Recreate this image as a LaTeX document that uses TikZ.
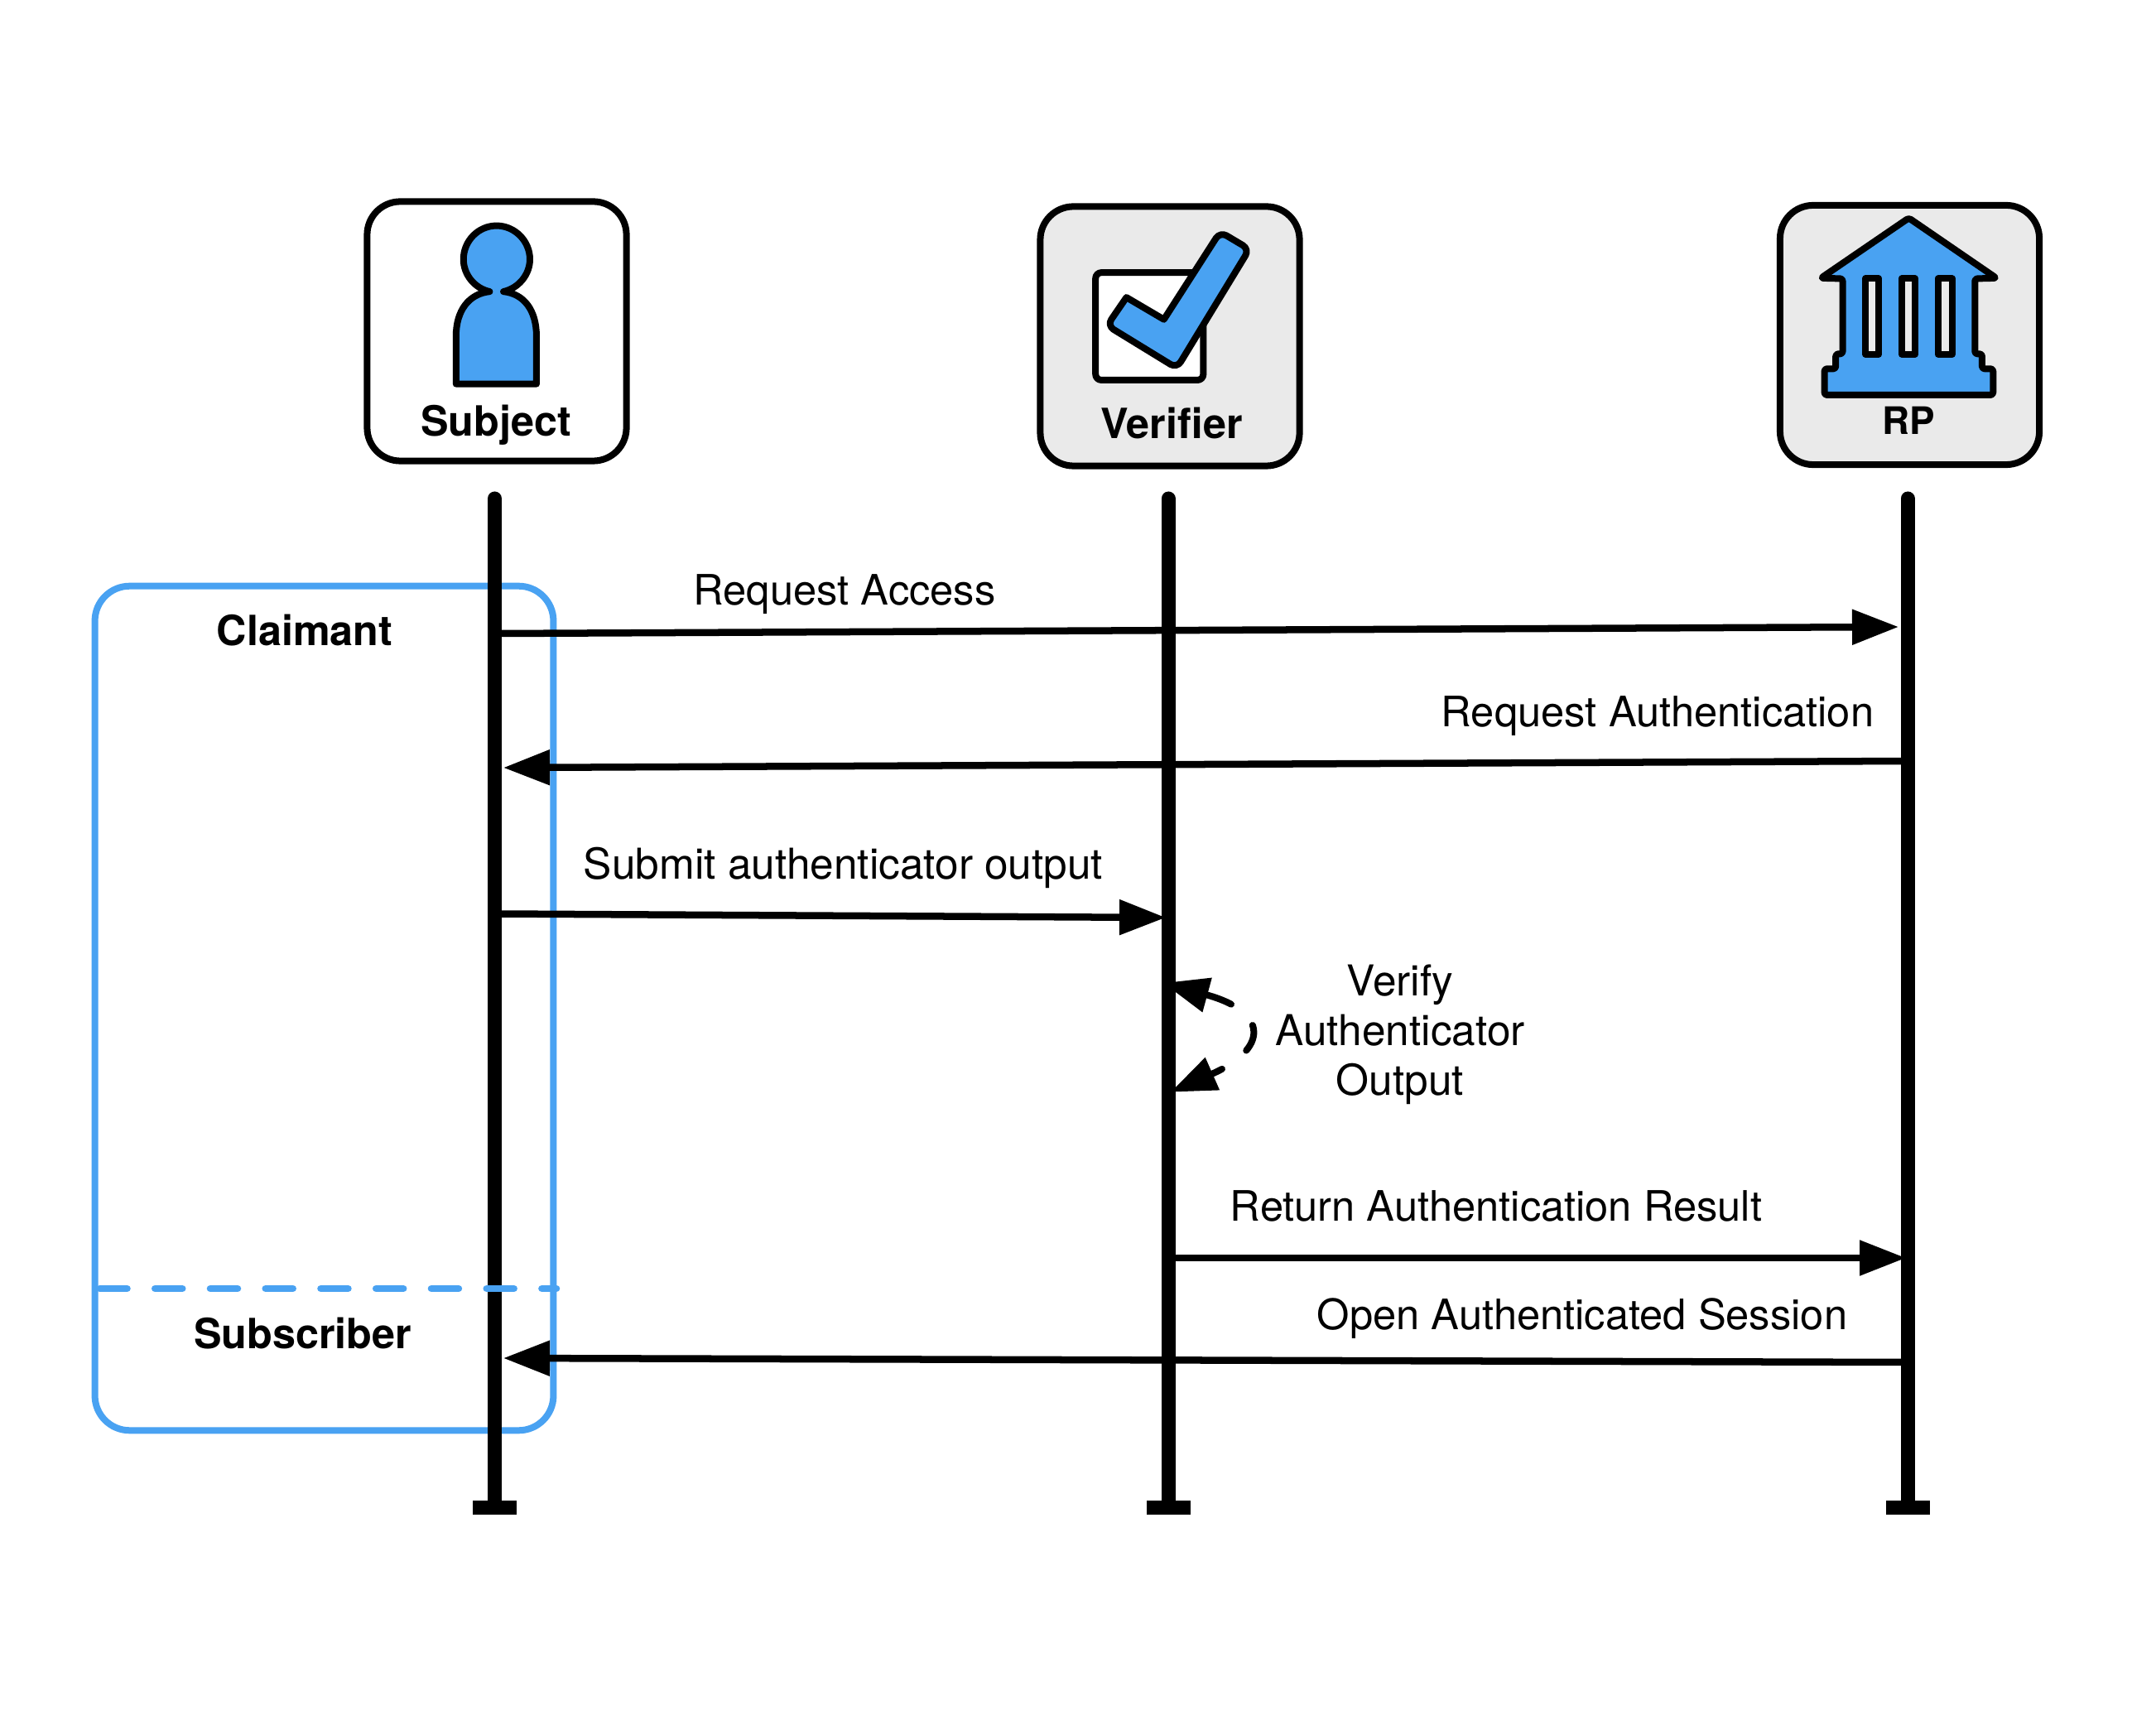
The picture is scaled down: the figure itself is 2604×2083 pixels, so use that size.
\documentclass[tikz,border=0pt]{standalone}
\usepackage{fontspec}
\setmainfont{TeX Gyre Heros}
\usetikzlibrary{arrows.meta}
\definecolor{iconblue}{HTML}{49A2F2}
\definecolor{panelgrey}{HTML}{EAEAEA}
\tikzset{
  actorbox/.style={draw=black,line width=0.08cm,rounded corners=0.4cm,minimum width=3.13cm,minimum height=3.13cm,inner sep=0pt},
  groupbox/.style={draw=iconblue,line width=0.08cm,rounded corners=0.42cm,minimum width=5.535cm,minimum height=10.19cm,inner sep=0pt},
  lifeline/.style={line width=0.17cm,line cap=round,-{Rectangle[length=0.17cm,width=0.53cm]}},
  message/.style={line width=0.085cm,-{Triangle[length=0.56cm,width=0.41cm]}},
  selfmsg/.style={line width=0.08cm,line cap=round,dash pattern=on 0.33cm off 0.37cm,{Triangle[length=0.55cm,width=0.41cm]}-{Triangle[length=0.55cm,width=0.41cm]}},
  grouprule/.style={draw=iconblue,line width=0.085cm,line cap=round,dash pattern=on 0.33cm off 0.337cm},
  msgtext/.style={inner sep=0pt,anchor=base,font=\fontsize{14.4pt}{17.07pt}\selectfont},
  actortext/.style={inner sep=0pt,anchor=base,font=\fontsize{14.3pt}{17pt}\selectfont\bfseries},
  icon/.style={draw=black,line width=0.08cm,line join=round}
}
\begin{document}
\begin{tikzpicture}[x=0.01cm,y=-0.01cm]
\useasboundingbox (0,0) rectangle (2604,2083);
\fill[white] (0,0) rectangle (2604,2083);

% actor boxes
\node[actorbox,fill=white] (subject) at (600,400) {};
\node[actorbox,fill=panelgrey] (verifier) at (1413,406) {};
\node[actorbox,fill=panelgrey] (rp) at (2306.5,404.5) {};

% person icon
\begin{scope}[shift={(420,220)},x=0.003333cm,y=-0.003333cm]
\draw[icon,fill=iconblue] (515,397) .. controls (460,385) and (420,335) .. (420,280)
  .. controls (420,213) and (474,158) .. (540,158)
  .. controls (606,158) and (661,213) .. (661,280)
  .. controls (661,335) and (620,385) .. (565,397)
  .. controls (640,405) and (685,465) .. (685,560)
  -- (685,732) -- (393,732) -- (393,560)
  .. controls (393,465) and (440,405) .. (515,397) -- cycle;
\end{scope}

% check icon
\begin{scope}[shift={(1240,230)},x=0.003333cm,y=-0.003333cm]
\draw[icon,fill=white,rounded corners=0.07cm] (250,298) rectangle (641,688);
\draw[icon,fill=iconblue] (362,388) -- (498,468)
  [rounded corners=0.09cm] -- (702,150) -- (808,213) -- (545,645) -- (292,490)
  [sharp corners] -- cycle;
\end{scope}

% bank icon
\begin{scope}[shift={(2130,230)},x=0.003333cm,y=-0.003333cm]
\draw[icon,fill=iconblue,rounded corners=0.03cm] (527,100) -- (845,318) -- (767,320) -- (767,593) -- (793,593) -- (793,647) -- (833,647) -- (833,742) -- (221,742) -- (221,647) -- (262,647) -- (262,593) -- (287,593) -- (287,320) -- (208,318) -- cycle;
\draw[icon,fill=panelgrey] (370,320) rectangle (418,594);
\draw[icon,fill=panelgrey] (501,320) rectangle (550,594);
\draw[icon,fill=panelgrey] (633,320) rectangle (684,594);
\end{scope}

\node[actortext] (subjectlabel) at (599,527) {Subject};
\node[actortext] (verifierlabel) at (1415,529.5) {Verifier};
\node[inner sep=0pt,anchor=base,font=\fontsize{13pt}{15pt}\selectfont\bfseries] (rplabel) at (2305,525) {RP};

% group box
\node[groupbox] (group) at (391.5,1217.5) {};

% lifelines
\coordinate (subjecttop) at (597.5,602);
\coordinate (subjectend) at (597.5,1829);
\coordinate (verifiertop) at (1411,602);
\coordinate (verifierend) at (1411,1829);
\coordinate (rptop) at (2304,602);
\coordinate (rpend) at (2304,1829);
\draw[lifeline] (subjecttop) -- (subjectend);
\draw[lifeline] (verifiertop) -- (verifierend);
\draw[lifeline] (rptop) -- (rpend);

% group divider
\coordinate (ruleleft) at (120.5,1556);
\coordinate (ruleright) at (672,1556);
\draw[grouprule] (ruleleft) -- (ruleright);
\node[actortext] (claimant) at (368,779.5) {Claimant};
\node[actortext] (subscriber) at (365.5,1628) {Subscriber};

% messages
\coordinate (m1a) at (605,765);
\coordinate (m1b) at (2293,757);
\coordinate (m2a) at (2302,919);
\coordinate (m2b) at (608,927);
\coordinate (m3a) at (605,1103.5);
\coordinate (m3b) at (1408,1108);
\coordinate (m4a) at (1416,1519);
\coordinate (m4b) at (2302,1519);
\coordinate (m5a) at (2302,1645);
\coordinate (m5b) at (608,1640);
\draw[message] (m1a) -- (m1b);
\draw[message] (m2a) -- (m2b);
\draw[message] (m3a) -- (m3b);
\draw[message] (m4a) -- (m4b);
\draw[message] (m5a) -- (m5b);

% self message
\coordinate (selfa) at (1405,1187);
\coordinate (selfb) at (1414,1318.7);
\coordinate (selfc) at (1533,1222);
\coordinate (selfd) at (1532.3,1266.7);
\draw[selfmsg] (selfa) .. controls (selfc) and (selfd) .. (selfb);

\node[msgtext] (t1) at (1020,730.5) {Request Access};
\node[msgtext] (t2) at (2002,877.5) {Request Authentication};
\node[msgtext,font=\fontsize{14.6pt}{17.07pt}\selectfont] (t3) at (1018.5,1061) {Submit authenticator output};
\node[msgtext,font=\fontsize{14.6pt}{17.07pt}\selectfont,align=center,anchor=center] (t4) at (1691,1249.5) {Verify\\Authenticator\\Output};
\node[msgtext] (t5) at (1807,1474.5) {Return Authentication Result};
\node[msgtext] (t6) at (1911,1605) {Open Authenticated Session};
\end{tikzpicture}
\end{document}
